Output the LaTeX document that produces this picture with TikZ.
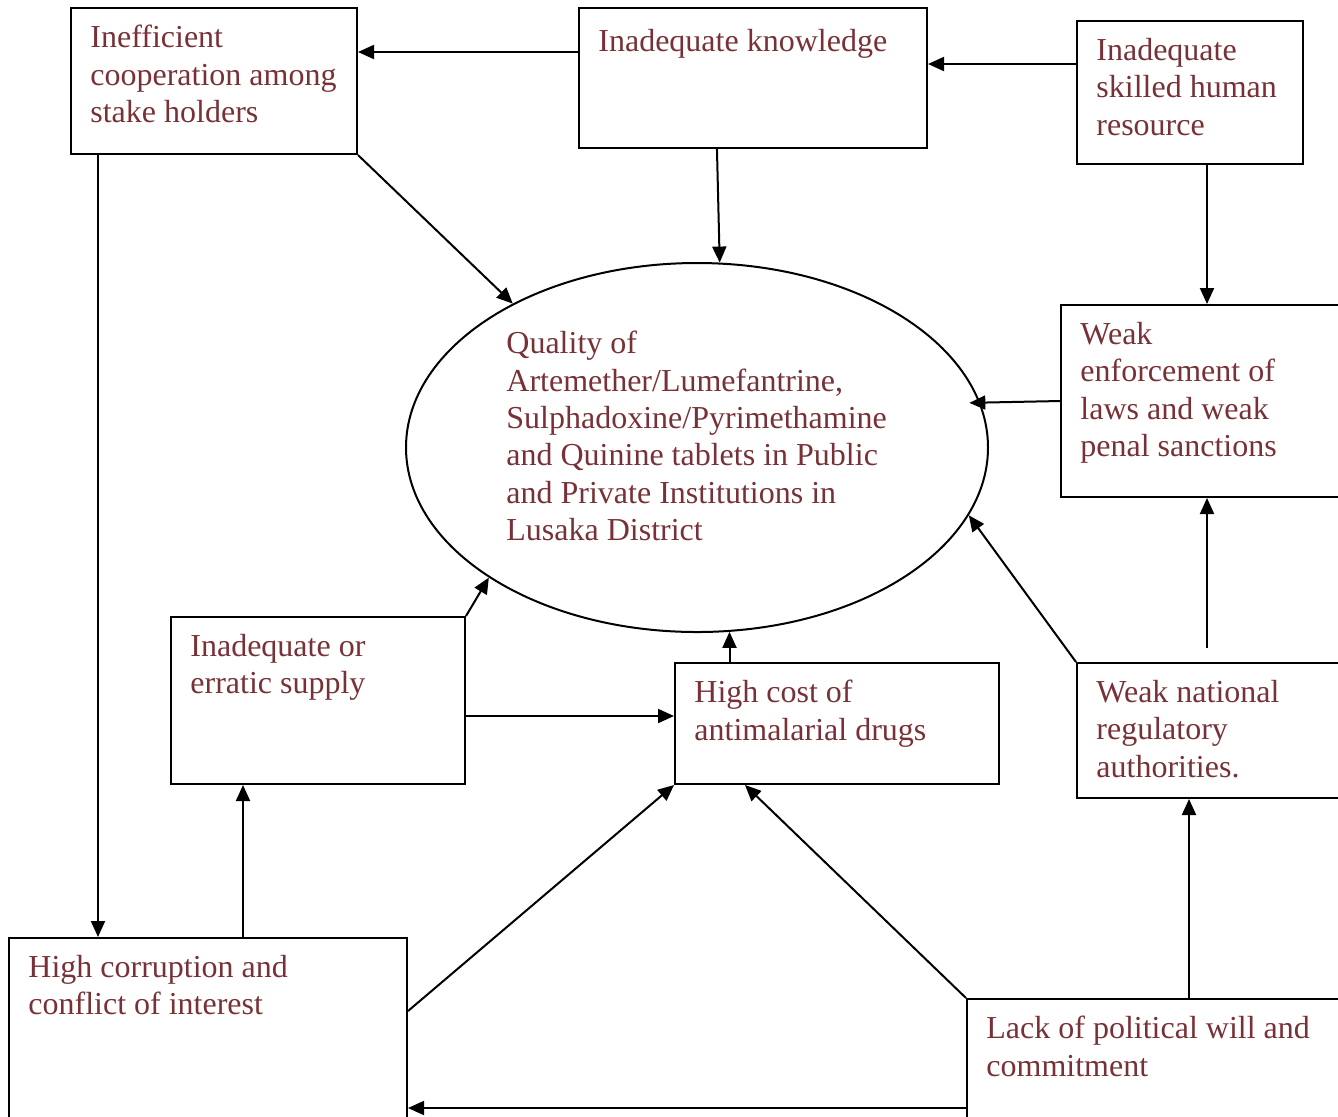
\documentclass[tikz,border=0pt]{standalone}
\usepackage{fontspec}
\setmainfont{Liberation Serif}
\usetikzlibrary{arrows.meta,shapes.geometric,calc}
\definecolor{causered}{RGB}{120,50,55}
\newcommand{\causefont}{\fontsize{16}{18.65}\selectfont}
\tikzset{
  cause/.style={draw,line width=1pt,anchor=north west,inner sep=0pt},
  effect/.style={draw,ellipse,line width=1pt,minimum width=291pt,minimum height=184.5pt,inner sep=0pt},
  txt/.style={anchor=north west,align=left,inner xsep=10pt,inner ysep=9pt,text=causered,font=\causefont,execute at begin node=\strut},
  link/.style={-{Triangle[length=8pt,width=7pt]},line width=1pt},
}

\begin{document}
\begin{tikzpicture}[x=0.5pt,y=-0.5pt]
\useasboundingbox (0,0) rectangle (1338,1116);
\clip (0,0) rectangle (1338,1116);

\node[cause,minimum width=143pt,minimum height=73pt] (ineff) at (70,7) {};
\node[cause,minimum width=174pt,minimum height=70pt] (know) at (578,7) {};
\node[cause,minimum width=113pt,minimum height=71.5pt] (skill) at (1076,20) {};
\node[cause,minimum width=146pt,minimum height=96pt] (enf) at (1060,304) {};
\node[cause,minimum width=147pt,minimum height=83.5pt] (supply) at (170,616) {};
\node[cause,minimum width=162pt,minimum height=60.5pt] (cost) at (674,662) {};
\node[cause,minimum width=162pt,minimum height=67.5pt] (natl) at (1076,662) {};
\node[cause,minimum width=199pt,minimum height=110pt] (corr) at (8,937) {};
\node[cause,minimum width=222pt,minimum height=109pt] (lack) at (966,998) {};
\node[effect] (qual) at (697,447.5) {};

\node[txt] at (ineff.north west) {Inefficient\\cooperation among\\stake holders};
\node[txt] at (know.north west) {Inadequate knowledge};
\node[txt] at (skill.north west) {Inadequate\\skilled human\\resource};
\node[txt] at (enf.north west) {Weak\\enforcement of\\laws and weak\\penal sanctions};
\node[txt] at (supply.north west) {Inadequate or\\erratic supply};
\node[txt] at (cost.north west) {High cost of\\antimalarial drugs};
\node[txt] at (natl.north west) {Weak national\\regulatory\\authorities.};
\node[txt] at (corr.north west) {High corruption and\\conflict of interest};
\node[txt] at (lack.north west) {Lack of political will and\\commitment};
\node[txt] at ([xshift=-105.5pt,yshift=67.25pt]qual.center) {Quality of\\Artemether/Lumefantrine,\\Sulphadoxine/Pyrimethamine\\and Quinine tablets in Public\\and Private Institutions in\\Lusaka District};

\draw[link] ([yshift=13pt]know.west) -- ([yshift=13pt]know.west -| ineff.east);
\draw[link] ([yshift=14.25pt]skill.west) -- ([yshift=14.25pt]skill.west -| know.east);
\draw[link] ($(know.south west)!0.397!(know.south east)$) -- (qual.83);
\draw[link] (skill.south -| enf.north) -- (enf.north);
\draw[link] (ineff.south east) -- (qual.142.6);
\draw[link,shorten >=-5.5pt] (enf.west) -- (qual.9.6);
\draw[link,shorten <=7pt] (enf.south |- natl.north) -- (enf.south);
\draw[link] (natl.north west) -- (qual.346.6);
\draw[link] (qual.280.1 |- cost.north) -- (qual.280.1);
\draw[link] (supply.north east) -- (qual.212.8);
\draw[link] ([yshift=-7.75pt]supply.east) -- ([yshift=-7.75pt]supply.east -| cost.west);
\draw[link] ([xshift=14pt]ineff.south west) -- ([xshift=14pt]ineff.south west |- corr.north);
\draw[link] ([xshift=36.5pt]supply.south west |- corr.north) -- ([xshift=36.5pt]supply.south west);
\draw[link] ([yshift=-37pt]corr.north east) -- (cost.south west);
\draw[link] (lack.north west) -- ([xshift=35.5pt]cost.south west);
\draw[link] (lack.north) -- (lack.north |- natl.south);
\draw[link] (lack.west) -- (lack.west -| corr.east);
\end{tikzpicture}
\end{document}
